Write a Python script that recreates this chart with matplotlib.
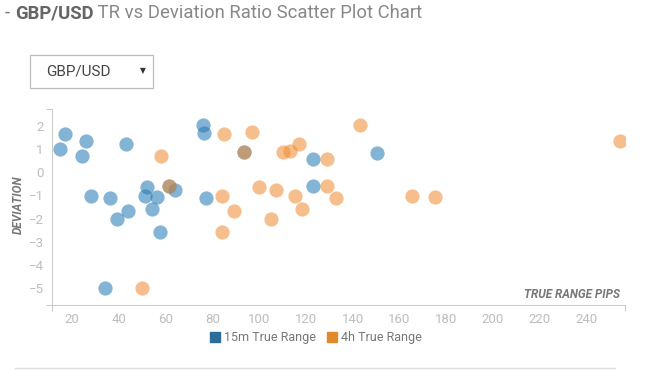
import matplotlib.pyplot as plt
from matplotlib.patches import Rectangle
from matplotlib.lines import Line2D

plt.rcParams["font.family"] = ["Roboto", "DejaVu Sans"]

# 15m true range points
tr_15m = [14.6, 17.0, 24.3, 25.7, 28.1, 36.3, 39.1, 43.7, 43.1, 34.0, 52.0, 51.1,
          56.2, 54.1, 57.4, 64.1, 61.2, 75.9, 76.2, 77.2, 93.5, 123.0, 123.0, 150.2]
dev_15m = [1.0, 1.68, 0.70, 1.36, -1.04, -1.11, -2.03, -1.67, 1.23, -5.0, -0.64, -1.04,
           -1.07, -1.59, -2.59, -0.78, -0.57, 2.07, 1.71, -1.09, 0.87, 0.58, -0.58, 0.84]

# 4h true range points
tr_4h = [50.0, 58.1, 61.2, 84.2, 84.8, 84.2, 89.2, 93.5, 96.7, 99.9, 107.1, 105.2,
         110.0, 113.1, 117.1, 115.2, 118.1, 129.0, 129.0, 132.8, 143.0, 165.4, 175.2, 254.4]
dev_4h = [-5.03, 0.70, -0.57, -1.04, 1.68, -2.59, -1.67, 0.87, 1.74, -0.64, -0.78, -2.03,
          0.87, 0.91, 1.23, -1.04, -1.59, 0.58, -0.58, -1.11, 2.07, -1.04, -1.07, 1.38]

x_ticks = [20, 40, 60, 80, 100, 120, 140, 160, 180, 200, 220, 240]
y_ticks = [-5, -4, -3, -2, -1, 0, 1, 2]

blue = "#1f77b4"
orange = "#ee8a2e"
axis_grey = "#cccccc"
label_grey = "#bdbdbd"

fig = plt.figure(figsize=(6.5, 3.7), dpi=100)
ax = fig.add_axes([52 / 650, 65 / 370, 573 / 650, 196 / 370])

ax.scatter(tr_15m, dev_15m, s=105, color=blue, alpha=0.55, linewidths=0)
ax.scatter(tr_4h, dev_4h, s=105, color=orange, alpha=0.55, linewidths=0)

ax.set_xlim(11.3, 256.5)
ax.set_ylim(-5.75, 2.75)
ax.set_xticks(x_ticks)
ax.set_yticks(y_ticks)
ax.tick_params(length=0, labelsize=9.5, labelcolor=label_grey, pad=6)
# outer ticks at the ends of the axis lines
ax.set_xticks([11.3, 256.5], minor=True)
ax.set_yticks([-5.75, 2.75], minor=True)
ax.tick_params(which="minor", length=4, color=axis_grey, width=0.8)

for side in ("top", "right"):
    ax.spines[side].set_visible(False)
for side in ("left", "bottom"):
    ax.spines[side].set_color(axis_grey)
    ax.spines[side].set_linewidth(0.8)

ax.text(1.0 - 5 / 573, 0.02, "TRUE RANGE PIPS", transform=ax.transAxes,
        ha="right", va="bottom", fontsize=8.5, fontweight="bold",
        fontstyle="italic", color="#777777")
fig.text(18 / 650, 1 - 205 / 370, "DEVIATION", rotation=90, ha="center",
         va="center", fontsize=8.5, fontweight="bold", fontstyle="italic",
         color="#777777")

# title
t1 = fig.text(5 / 650, 1 - 13 / 370, "- ", fontsize=13.3, color="#777777",
              va="center", ha="left")
fig.canvas.draw()
r = fig.canvas.get_renderer()
bb = t1.get_window_extent(r)
t2 = fig.text(bb.x1 / 650, 1 - 13 / 370, "GBP/USD", fontsize=13.3,
              fontweight="bold", color="#666666", va="center", ha="left")
bb = t2.get_window_extent(r)
fig.text(bb.x1 / 650, 1 - 13 / 370, " TR vs Deviation Ratio Scatter Plot Chart",
         fontsize=13.3, color="#888888", va="center", ha="left")

# dropdown box
fig.add_artist(Rectangle((30 / 650, 1 - 88 / 370), 123 / 650, 33 / 370,
                         transform=fig.transFigure, fill=False,
                         edgecolor="#bbbbbb", linewidth=0.9))
fig.text(78 / 650, 1 - 72 / 370, "GBP/USD", fontsize=11, color="#444444",
         ha="center", va="center")
fig.text(143 / 650, 1 - 71 / 370, "\u25bc", fontsize=5.5, color="#333333",
         ha="center", va="center", family="DejaVu Sans")

# legend
handles = [
    Line2D([], [], marker="s", linestyle="", markersize=7, color="#2b6c99"),
    Line2D([], [], marker="s", linestyle="", markersize=7, color="#e08a2c"),
]
fig.legend(handles, ["15m True Range", "4h True Range"], loc="center",
           bbox_to_anchor=(315 / 650, 1 - 338 / 370), ncol=2, frameon=False,
           fontsize=9, labelcolor="#777777", handletextpad=0.2,
           columnspacing=0.8, handlelength=1.0)

# bottom divider
fig.add_artist(Line2D([15 / 650, 615 / 650], [1 - 368 / 370, 1 - 368 / 370],
                      transform=fig.transFigure, color="#dddddd", linewidth=1))

fig.savefig("out.png", dpi=100)
